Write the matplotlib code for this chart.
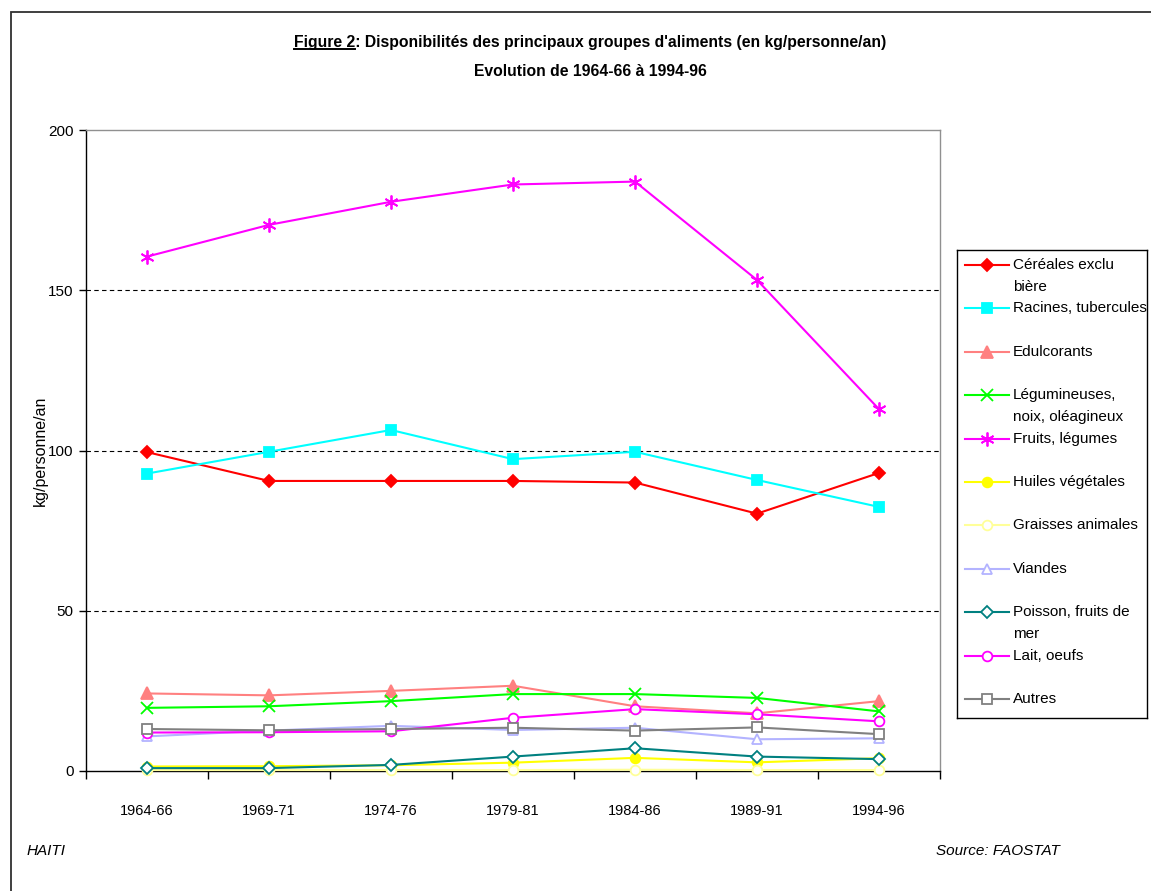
import numpy as np
import matplotlib
matplotlib.use("Agg")
import matplotlib.pyplot as plt
from matplotlib.patches import Rectangle
from matplotlib.lines import Line2D

plt.rcParams['font.family'] = ['Liberation Sans', 'DejaVu Sans']

# Data (kg/personne/an)
periods = ['1964-66', '1969-71', '1974-76', '1979-81', '1984-86', '1989-91', '1994-96']

cereales = [99.5, 90.5, 90.5, 90.5, 90.0, 80.3, 93.0]
racines = [92.8, 99.6, 106.4, 97.3, 99.6, 90.8, 82.4]
edulcorants = [24.2, 23.6, 25.0, 26.6, 20.2, 18.0, 21.8]
legumineuses = [19.7, 20.2, 21.8, 24.0, 24.0, 22.8, 18.6]
fruits = [160.5, 170.4, 177.6, 183.0, 183.9, 153.2, 112.9]
huiles = [1.4, 1.5, 1.8, 2.6, 4.1, 2.7, 4.0]
graisses = [0.3, 0.3, 0.3, 0.3, 0.4, 0.3, 0.3]
viandes = [10.8, 12.6, 14.1, 12.8, 13.5, 9.9, 10.2]
poisson = [0.9, 0.9, 1.9, 4.5, 7.1, 4.5, 3.7]
lait = [12.0, 12.1, 12.4, 16.6, 19.3, 17.7, 15.5]
autres = [13.1, 12.7, 13.1, 13.5, 12.6, 13.6, 11.5]

labels = [['Céréales exclu', 'bière'], ['Racines, tubercules'], ['Edulcorants'],
          ['Légumineuses,', 'noix, oléagineux'], ['Fruits, légumes'], ['Huiles végétales'],
          ['Graisses animales'], ['Viandes'], ['Poisson, fruits de', 'mer'],
          ['Lait, oeufs'], ['Autres']]

series = [cereales, racines, edulcorants, legumineuses, fruits, huiles,
          graisses, viandes, poisson, lait, autres]

# colour, marker, marker size, face colour
styles = [
    ('#FF0000', 'D', 6, '#FF0000'),
    ('#00FFFF', 's', 7, '#00FFFF'),
    ('#FF8080', '^', 8, '#FF8080'),
    ('#00FF00', 'x', 8, '#00FF00'),
    ('#FF00FF', (6, 2, 0), 10, '#FF00FF'),
    ('#FFFF00', 'o', 7, '#FFFF00'),
    ('#FFFF99', 'o', 7, 'white'),
    ('#B3B3FF', '^', 7, 'white'),
    ('#008080', 'D', 6, 'white'),
    ('#FF00FF', 'o', 7, 'white'),
    ('#808080', 's', 7, 'white'),
]

W, H = 1151, 891
fig = plt.figure(figsize=(W / 100, H / 100), dpi=100)

# outer frame
fig.patches.append(Rectangle((11 / W, -0.1), 1.2, (H - 12) / H + 0.1,
                             transform=fig.transFigure, fill=False,
                             edgecolor='#303030', linewidth=1.3))

ax = fig.add_axes([86 / W, (H - 771) / H, 854 / W, 641 / H])
x = np.arange(len(periods))
for vals, (col, mk, ms, fc) in zip(series, styles):
    ax.plot(x, vals, color=col, linewidth=1.5, marker=mk, markersize=ms,
            markerfacecolor=fc, markeredgecolor=col, markeredgewidth=1.3,
            clip_on=False, zorder=3)

ax.set_xlim(-0.5, 6.5)
ax.set_ylim(0, 200)
ax.set_yticks([0, 50, 100, 150, 200])
ax.set_xticks(x)
ax.set_xticklabels(periods)
ax.set_xticks(np.arange(-0.5, 7, 1), minor=True)
ax.tick_params(axis='x', which='major', length=0, pad=24, labelsize=10.5)
ax.tick_params(axis='x', which='minor', length=6, direction='out', width=1)
ax.tick_params(axis='y', length=5, direction='out', width=1, pad=4, labelsize=11)
for v in [50, 100, 150]:
    ax.axhline(v, color='black', linestyle=(0, (4, 3)), linewidth=0.8, zorder=1)
for s in ['top', 'right']:
    ax.spines[s].set_color('#909090')
    ax.spines[s].set_linewidth(1)
for s in ['left', 'bottom']:
    ax.spines[s].set_color('black')
    ax.spines[s].set_linewidth(1)
ax.set_ylabel('kg/personne/an', fontsize=11.5, labelpad=0)

# title with underlined "Figure 2"
tsize = 11.3
t1 = 'Figure 2: Disponibilités des principaux groupes d\'aliments (en kg/personne/an)'
cx, cy = 590 / W, 1 - 42 / H
title = fig.text(cx, cy, t1, ha='center', va='center', fontsize=tsize, fontweight='bold')
fig.text(cx, 1 - 71 / H, 'Evolution de 1964-66 à 1994-96', ha='center', va='center',
         fontsize=tsize, fontweight='bold')
r = fig.canvas.get_renderer()
bb = title.get_window_extent(r)
tmp = fig.text(0, 0, 'Figure 2', fontsize=tsize, fontweight='bold')
wfig = tmp.get_window_extent(r).width
tmp.remove()
yline = (bb.y0 + 1) / H
fig.add_artist(Line2D([bb.x0 / W, (bb.x0 + wfig) / W], [yline, yline],
                      color='black', linewidth=1.4, transform=fig.transFigure))

# legend box
lax = fig.add_axes([957 / W, (H - 718) / H, 190 / W, 468 / H])
lax.set_xlim(0, 190)
lax.set_ylim(468, 0)
lax.set_xticks([])
lax.set_yticks([])
for s in lax.spines.values():
    s.set_linewidth(1)
for i, (lab, (col, mk, ms, fc)) in enumerate(zip(labels, styles)):
    yy = 15 + 43.4 * i
    lax.plot([8, 52], [yy, yy], color=col, linewidth=1.5)
    lax.plot([30], [yy], color=col, marker=mk, markersize=ms, markerfacecolor=fc,
             markeredgecolor=col, markeredgewidth=1.3)
    for j, line in enumerate(lab):
        lax.text(56, yy + 22 * j, line, fontsize=11, va='center', ha='left')

fig.text(27 / W, 1 - 851 / H, 'HAITI', fontsize=11, style='italic', va='center')
fig.text(936 / W, 1 - 851 / H, 'Source: FAOSTAT', fontsize=11, style='italic', va='center')

fig.savefig('out.png', dpi=100)
